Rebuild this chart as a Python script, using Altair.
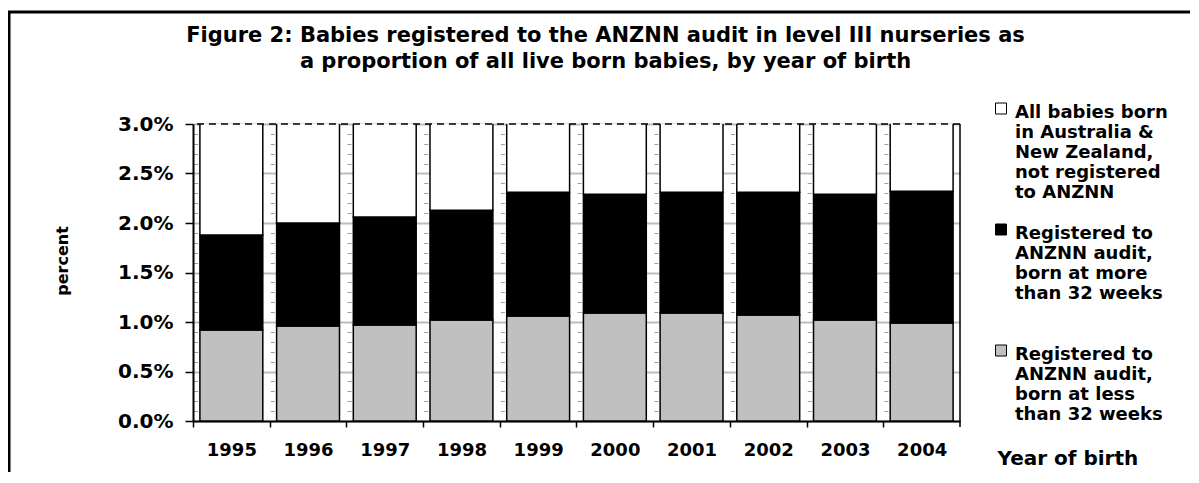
import altair as alt
import pandas as pd

# ---- data ----
years = ["1995", "1996", "1997", "1998", "1999", "2000", "2001", "2002", "2003", "2004"]
under_32 = [0.92, 0.96, 0.97, 1.02, 1.06, 1.09, 1.09, 1.07, 1.02, 0.99]   # % of live births
over_32 = [0.96, 1.04, 1.09, 1.11, 1.25, 1.20, 1.22, 1.24, 1.27, 1.33]    # % of live births
all_live_births = 100.0

series_names = [
    "All babies born|in Australia &|New Zealand,|not registered|to ANZNN",
    "Registered to|ANZNN audit,|born at more|than 32 weeks| ",
    "Registered to|ANZNN audit,|born at less|than 32 weeks| ",
]
series_colors = ["#ffffff", "#000000", "#c0c0c0"]
y_tick_values = [round(i * 0.1, 1) for i in range(31)]
title_lines = [
    "Figure 2: Babies registered to the ANZNN audit in level III nurseries  as",
    "a proportion of all live born babies, by year of birth",
]

rows = []
for i, yr in enumerate(years):
    rows.append({"year": yr, "series": series_names[2], "value": under_32[i], "ord": 0})
    rows.append({"year": yr, "series": series_names[1], "value": over_32[i], "ord": 1})
    rows.append({"year": yr, "series": series_names[0],
                 "value": all_live_births - under_32[i] - over_32[i], "ord": 2})
df = pd.DataFrame(rows)

W, H = 767, 297
step = W / len(years)
FONT = "DejaVu Sans"
major = "round(datum.value * 10) % 5 == 0"

x_enc = alt.X(
    "year:N", sort=years, title="Year of birth",
    scale=alt.Scale(paddingInner=0.18, paddingOuter=0.09),
    axis=alt.Axis(
        labelAngle=0, labelFont=FONT, labelFontWeight="bold", labelFontSize=18, labelColor="black",
        labelPadding=14, tickSize=6, tickColor="black", tickWidth=1.5,
        tickOffset=-step / 2, labelOffset=step / 2,
        domainColor="black", domainWidth=2, grid=False,
        titleFont=FONT, titleFontSize=20, titleFontWeight="bold", titleColor="black",
        titleX=804, titleY=37, titleAlign="left", titleBaseline="middle",
    ),
)

y_enc = alt.Y(
    "value:Q", stack="zero", title="percent",
    scale=alt.Scale(domain=[0, 3], nice=False, zero=True),
    axis=alt.Axis(
        values=y_tick_values, tickCount=len(y_tick_values),
        labelExpr=f"{major} ? format(datum.value / 100, '.1%') : ''",
        labelOverlap=False, labelFlush=False,
        labelFont=FONT, labelFontSize=20, labelFontWeight="bold", labelColor="black", labelPadding=12,
        tickSize=8, tickColor="black", tickWidth=1.5,
        tickOpacity={"condition": {"test": major, "value": 1}, "value": 0},
        domainColor="black", domainWidth=2,
        grid=True,
        gridColor={"condition": {"test": major, "value": "#bdbdbd"}, "value": "#a0a0a0"},
        gridWidth={"condition": {"test": major, "value": 2}, "value": 1},
        gridDash={"condition": {"test": major, "value": [1, 0]}, "value": [4, step - 4]},
        gridDashOffset=-0.6,
        titleFont=FONT, titleFontSize=16, titleFontWeight="bold", titleColor="black",
        titleX=-130.7, titleY=136.5, titleAngle=270, titleAlign="center", titleBaseline="middle",
    ),
)

legend = alt.Legend(
    orient="none", legendX=799, legendY=-29, title=None, direction="vertical",
    labelExpr="split(datum.label, '|')", labelFont=FONT, labelFontSize=18,
    labelFontWeight="bold", labelColor="black", labelBaseline="top", labelLimit=0,
    labelOffset=5, symbolType="M-1,-0.18L1,-0.18L1,1.82L-1,1.82Z", symbolSize=121,
    symbolStrokeColor="black", symbolStrokeWidth=1, rowPadding=14, padding=0,
)

bars = alt.Chart(df).mark_bar(stroke="black", strokeWidth=1.5, clip=True).encode(
    x=x_enc,
    y=y_enc,
    color=alt.Color("series:N", scale=alt.Scale(domain=series_names, range=series_colors), legend=legend),
    order=alt.Order("ord:Q"),
)

top_line = alt.Chart(pd.DataFrame({"v": [3.0]})).mark_rule(
    color="black", strokeWidth=1.5, strokeDash=[7, 5]
).encode(y="v:Q")

right_edge = alt.Chart(pd.DataFrame({"v": [0]})).mark_rule(color="black", strokeWidth=1.5).encode(
    x=alt.value(W), y=alt.value(0), y2=alt.value(H + 6)
)

frame = alt.Chart(pd.DataFrame({"v": [0]})).mark_rect(
    fillOpacity=0, stroke="black", strokeWidth=3, clip=False
).encode(x=alt.value(-184), y=alt.value(-112), x2=alt.value(W + 400), y2=alt.value(H + 300))

chart = alt.layer(frame, bars, top_line, right_edge).properties(
    width=W, height=H,
    title=alt.Title(
        text=title_lines, font=FONT, fontSize=21, fontWeight="bold", color="black",
        anchor="middle", frame="group", baseline="top", lineHeight=26, offset=0, dy=61, dx=29,
    ),
    autosize=alt.AutoSizeParams(type="none"),
    padding={"left": 185, "top": 116, "right": 230, "bottom": 51},
    background="white",
).configure_view(strokeWidth=0)

chart.save("out.html", embed_options={"renderer": "svg", "actions": False})
